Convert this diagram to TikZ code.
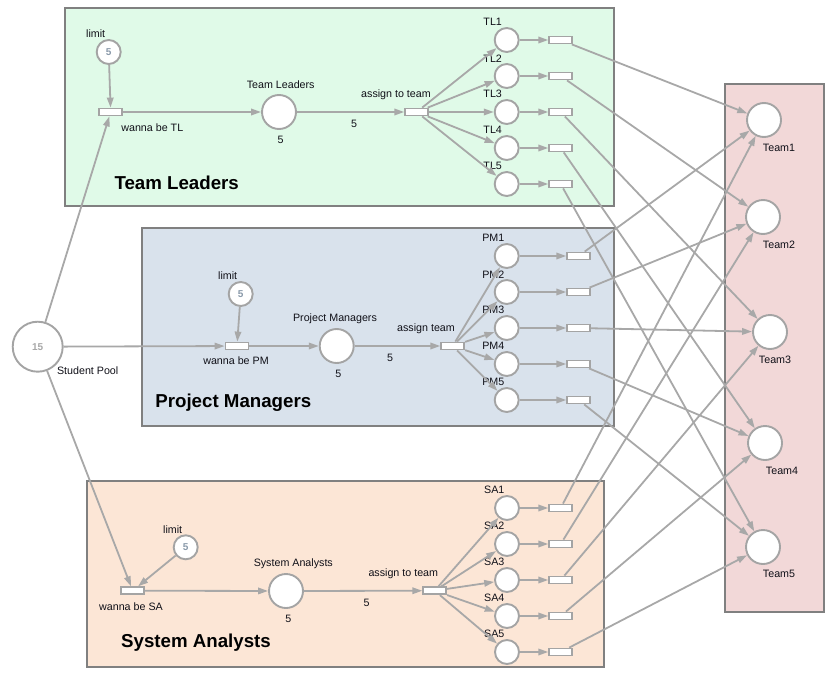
\documentclass[tikz,border=0pt]{standalone}
\usepackage{fontspec}
\setmainfont{Liberation Sans}
\usetikzlibrary{arrows.meta}
\definecolor{tlfill}{HTML}{E0FAE8}
\definecolor{pmfill}{HTML}{D9E2EC}
\definecolor{safill}{HTML}{FCE6D6}
\definecolor{teamfill}{HTML}{F2D8D8}
\definecolor{boxline}{HTML}{808080}
\definecolor{arcgray}{HTML}{A8A8A8}
\definecolor{nodegray}{HTML}{A4A4A4}
\definecolor{txt}{HTML}{101018}
\definecolor{tok}{HTML}{8A9AAA}
\definecolor{pooltok}{HTML}{A8A8A8}
\begin{document}
\begin{tikzpicture}[x=1pt,y=-1pt,
 grp/.style={draw=boxline, line width=2pt},
 petriplace/.style={circle, draw=nodegray, line width=1.9pt, fill=white, inner sep=0pt, minimum size=24pt},
 petribig/.style={petriplace, minimum size=34pt},
 petritrans/.style={rectangle, draw=nodegray, line width=1.8pt, fill=white, inner sep=0pt, minimum width=23pt, minimum height=7pt},
 flow/.style={draw=arcgray, line width=1.8pt, -{Triangle[length=10pt,width=6.5pt]}},
 lbl/.style={font=\fontsize{10.7}{12}\selectfont, text=txt, inner sep=0pt},
 ttl/.style={font=\fontsize{18.7}{21}\selectfont\bfseries, text=black, inner sep=0pt},
 tokstyle/.style={font=\fontsize{10}{12}\selectfont\bfseries, text=tok}
]
\useasboundingbox (0,0) rectangle (837,677);
% group boxes
\draw[grp, fill=tlfill] (65,8) rectangle (614,206);
\draw[grp, fill=pmfill] (142,228) rectangle (614,426);
\draw[grp, fill=safill] (87,481) rectangle (604,667);
\draw[grp, fill=teamfill] (725,84) rectangle (824,612);

% student pool
\node[petriplace, minimum size=50pt, font=\fontsize{10}{12}\selectfont\bfseries, text=pooltok] (pool) at (37.7,346.7) {15};
\node[lbl] (poolL) at (87.7,370.7) {Student Pool};

% ---------- Team Leaders ----------
\node[petriplace, tokstyle] (tlLimit) at (108.7,52) {5};
\node[lbl] (tlLimitL) at (95.7,34) {limit};
\node[petritrans] (tlWanna) at (110.7,112) {};
\node[lbl] (tlWannaL) at (152.3,127.7) {wanna be TL};
\node[petribig] (tlPlace) at (279,112) {};
\node[lbl] (tlPlaceL) at (280.7,84.3) {Team Leaders};
\node[lbl] (tlPlaceN) at (280.7,140) {5};
\node[petritrans] (tlAssign) at (416.7,112) {};
\node[lbl] (tlAssignL) at (396,94.3) {assign to team};
\node[lbl] (tlArcN) at (354,124) {5};
\node[ttl] (tlTitle) at (176.7,183.3) {Team Leaders};
\foreach \i in {1,...,5}{
  \pgfmathsetmacro\yy{40+36*(\i-1)}
  \node[petriplace] (tl\i) at (506.7,\yy) {};
  \node[lbl] (tlL\i) at (492.7,\yy-17.7) {TL\i};
  \node[petritrans] (tlr\i) at (560.7,\yy) {};
}

% ---------- Project Managers ----------
\node[petriplace, tokstyle] (pmLimit) at (240.7,294) {5};
\node[lbl] (pmLimitL) at (227.7,276) {limit};
\node[petritrans] (pmWanna) at (237,346) {};
\node[lbl] (pmWannaL) at (236,361) {wanna be PM};
\node[petribig] (pmPlace) at (336.7,346) {};
\node[lbl] (pmPlaceL) at (335,318.3) {Project Managers};
\node[lbl] (pmPlaceN) at (338.3,374.3) {5};
\node[petritrans] (pmAssign) at (452.7,346) {};
\node[lbl] (pmAssignL) at (426,328.3) {assign team};
\node[lbl] (pmArcN) at (390,357.7) {5};
\node[ttl] (pmTitle) at (233.3,402.3) {Project Managers};
\foreach \i in {1,...,5}{
  \pgfmathsetmacro\yy{256+36*(\i-1)}
  \node[petriplace] (pm\i) at (506.7,\yy) {};
  \node[lbl] (pmL\i) at (493.3,\yy-17.7) {PM\i};
  \node[petritrans] (pmr\i) at (578.7,\yy) {};
}

% ---------- System Analysts ----------
\node[petriplace, tokstyle] (saLimit) at (185.7,547.3) {5};
\node[lbl] (saLimitL) at (172.7,529.3) {limit};
\node[petritrans] (saWanna) at (132.7,590.7) {};
\node[lbl] (saWannaL) at (131,606.7) {wanna be SA};
\node[petribig] (saPlace) at (286,591) {};
\node[lbl] (saPlaceL) at (293.3,563.3) {System Analysts};
\node[lbl] (saPlaceN) at (288.3,619) {5};
\node[petritrans] (saAssign) at (434.7,590.7) {};
\node[lbl] (saAssignL) at (403.3,573.3) {assign to team};
\node[lbl] (saArcN) at (366.7,602.7) {5};
\node[ttl] (saTitle) at (196,642.3) {System Analysts};
\foreach \i in {1,...,5}{
  \pgfmathsetmacro\yy{508+36*(\i-1)}
  \node[petriplace] (sa\i) at (507,\yy) {};
  \node[lbl] (saL\i) at (494.3,\yy-17.7) {SA\i};
  \node[petritrans] (sar\i) at (560.7,\yy) {};
}

% ---------- Teams ----------
\node[petribig] (team1) at (764,120) {};
\node[lbl] (teamL1) at (779,147.5) {Team1};
\node[petribig] (team2) at (763,217) {};
\node[lbl] (teamL2) at (779,244.5) {Team2};
\node[petribig] (team3) at (770,332) {};
\node[lbl] (teamL3) at (775,359.5) {Team3};
\node[petribig] (team4) at (765,443) {};
\node[lbl] (teamL4) at (782,470.7) {Team4};
\node[petribig] (team5) at (763,547) {};
\node[lbl] (teamL5) at (779,574) {Team5};

% ---------- connectors ----------
\draw[flow] (pool) -- (tlWanna);
\draw[flow] (pool) -- (pmWanna);
\draw[flow] (pool) -- (saWanna);
\foreach \g in {tl,pm,sa}{
  \draw[flow] (\g Limit) -- (\g Wanna);
  \draw[flow] (\g Wanna) -- (\g Place);
  \draw[flow] (\g Place) -- (\g Assign);
  \foreach \i in {1,...,5}{
    \draw[flow] (\g Assign) -- (\g\i);
    \draw[flow] (\g\i) -- (\g r\i);
    \draw[flow] (\g r\i) -- (team\i);
  }
}
\end{tikzpicture}
\end{document}
